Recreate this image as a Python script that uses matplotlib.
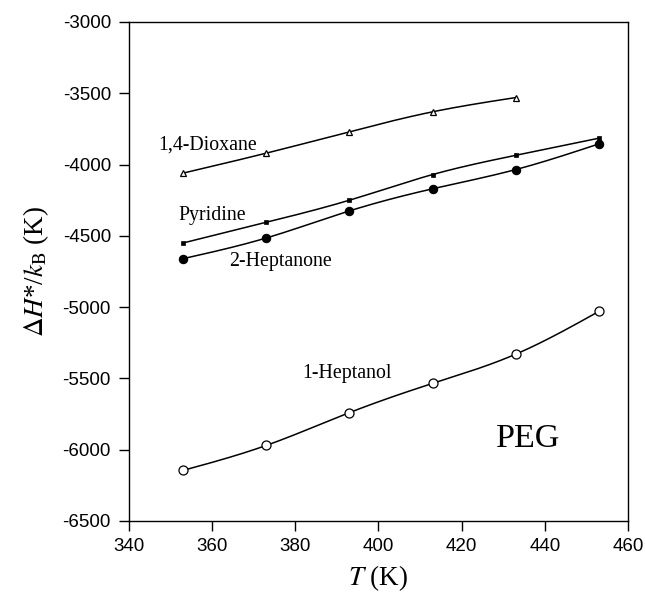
import numpy as np
import matplotlib
matplotlib.use("Agg")
import matplotlib.pyplot as plt

plt.rcParams['mathtext.fontset'] = 'stix'
plt.rcParams['axes.unicode_minus'] = False

# temperatures (K)
T_dioxane = [353, 373, 393, 413, 433]
T_other = [353, 373, 393, 413, 433, 453]

# dH*/kB (K)
dioxane = [-4060, -3920, -3770, -3630, -3530]
pyridine = [-4550, -4405, -4250, -4070, -3935, -3815]
heptanone = [-4660, -4515, -4325, -4170, -4035, -3855]
heptanol = [-6145, -5970, -5740, -5535, -5330, -5030]


def spline(x, y, n=200):
    # natural cubic spline, just for the smooth connecting curve
    x = np.asarray(x, float)
    y = np.asarray(y, float)
    k = len(x)
    h = np.diff(x)
    A = np.zeros((k, k))
    b = np.zeros(k)
    A[0, 0] = A[-1, -1] = 1
    for i in range(1, k - 1):
        A[i, i - 1] = h[i - 1]
        A[i, i] = 2 * (h[i - 1] + h[i])
        A[i, i + 1] = h[i]
        b[i] = 6 * ((y[i + 1] - y[i]) / h[i] - (y[i] - y[i - 1]) / h[i - 1])
    M = np.linalg.solve(A, b)
    xs = np.linspace(x[0], x[-1], n)
    idx = np.clip(np.searchsorted(x, xs) - 1, 0, k - 2)
    x0, x1 = x[idx], x[idx + 1]
    hh = x1 - x0
    ys = (M[idx] * (x1 - xs) ** 3 / (6 * hh) + M[idx + 1] * (xs - x0) ** 3 / (6 * hh)
          + (y[idx] / hh - M[idx] * hh / 6) * (x1 - xs)
          + (y[idx + 1] / hh - M[idx + 1] * hh / 6) * (xs - x0))
    return xs, ys


fig = plt.figure(figsize=(6.45, 6.03), dpi=100)
ax = fig.add_axes([129 / 645, 82 / 603, 499 / 645, 499 / 603])

series = [
    (T_dioxane, dioxane, dict(marker='^', mfc='white', ms=4, mew=0.9)),
    (T_other, pyridine, dict(marker='s', mfc='black', ms=3.5, mew=0.5)),
    (T_other, heptanone, dict(marker='o', mfc='black', ms=6, mew=0.8)),
    (T_other, heptanol, dict(marker='o', mfc='white', ms=6.5, mew=0.9)),
]
for x, y, st in series:
    xs, ys = spline(x, y)
    ax.plot(xs, ys, color='black', lw=1.1, zorder=2)
    ax.plot(x, y, ls='none', mec='black', zorder=3, **st)

serif = 'Liberation Serif'
ax.text(347, -3863, '1,4-Dioxane', family=serif, fontsize=14.3, va='center')
ax.text(352, -4354, 'Pyridine', family=serif, fontsize=14.3, va='center')
ax.text(364.1, -4683, '2-Heptanone', family=serif, fontsize=14.3, va='center')
ax.text(381.7, -5462, '1-Heptanol', family=serif, fontsize=14.3, va='center')
ax.text(428.2, -5925, 'PEG', family=serif, fontsize=24.5, va='center')

ax.set_xlim(340, 460)
ax.set_ylim(-6500, -3000)
ax.set_xticks(np.arange(340, 461, 20))
ax.set_yticks(np.arange(-6500, -2999, 500))
ax.tick_params(direction='out', length=7, width=1, labelsize=13.5, top=False, right=False)
ax.tick_params(axis='y', pad=6)
ax.tick_params(axis='x', pad=5)
for lab in ax.get_xticklabels() + ax.get_yticklabels():
    lab.set_family('Liberation Sans')
for s in ax.spines.values():
    s.set_linewidth(1)

ax.set_xlabel(r'$T$ (K)', family=serif, fontsize=19.5, labelpad=6)
ax.set_ylabel(r'$\Delta H$*/$k_\mathrm{B}$ (K)', family=serif, fontsize=19.5, labelpad=8)

fig.savefig('out.png', dpi=100)
